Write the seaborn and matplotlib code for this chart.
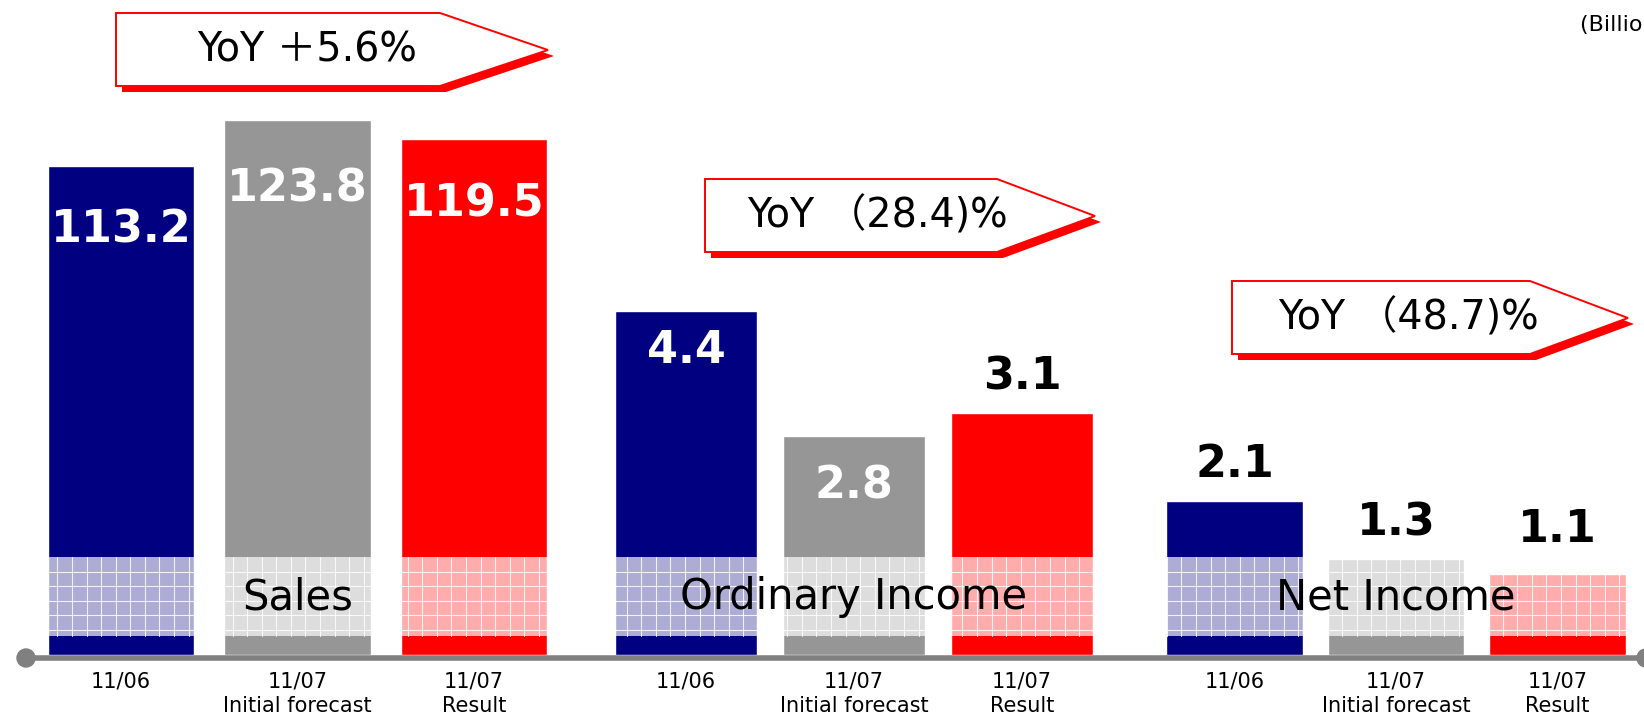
import matplotlib
matplotlib.use("Agg")
import numpy as np
import pandas as pd
import matplotlib.pyplot as plt
import seaborn as sns
from matplotlib.patches import Polygon, Rectangle, Circle
from matplotlib.transforms import blended_transform_factory

# data
periods = ["11/06", "11/07\nInitial forecast", "11/07\nResult"]
sales = [113.2, 123.8, 119.5]
ordinary_income = [4.4, 2.8, 3.1]
net_income = [2.1, 1.3, 1.1]
group_names = ["Sales", "Ordinary Income", "Net Income"]
yoy_labels = ["YoY ＋5.6%", "YoY （28.4)%", "YoY （48.7)%"]
unit_label = "(Billion yen)"

bar_colors = ["#000080", "#969696", "#ff0000"]

W, H = 1644, 718
BASE = 655  # baseline of bars, px from top

sns.set_theme(style="white")
plt.rcParams["font.family"] = ["DejaVu Sans", "Noto Sans CJK JP"]

fig = plt.figure(figsize=(W / 100, H / 100), dpi=100)

# each group has its own scale: (values, left px, right px, bar width, y max, label offsets px)
layout = [
    (sales, 48, 547, 0.831, 151.7, [-64, -69, -65]),
    (ordinary_income, 615, 1093, 0.845, 8.376, [-40, -50, 36]),
    (net_income, 1166, 1626, 0.848, 8.91, [36, 36, 45]),
]

bar_axes = []
for vals, left, right, w, ymax, offs in layout:
    ax = fig.add_axes([left / W, 1 - BASE / H, (right - left) / W, BASE / H])
    df = pd.DataFrame({"period": periods, "value": vals})
    sns.barplot(data=df, x="period", y="value", hue="period", palette=bar_colors,
                width=w, saturation=1, legend=False, ax=ax)
    ax.set_xlim(-w / 2, 2 + w / 2)
    ax.set_ylim(0, ymax)
    ax.set_xlabel("")
    ax.set_ylabel("")
    ax.set_yticks([])
    ax.patch.set_alpha(0)
    sns.despine(ax=ax, left=True, bottom=True)
    ax.tick_params(axis="x", length=0, pad=12, labelsize=15, colors="black")
    for lbl in ax.get_xticklabels():
        lbl.set_linespacing(1.28)
    for patch, v, off in zip(ax.patches, vals, offs):
        cx = patch.get_x() + patch.get_width() / 2
        ax.annotate(f"{v:.1f}", (cx, patch.get_height()), xytext=(0, -off * 0.72 * -1 if off > 0 else off * 0.72),
                    textcoords="offset points", ha="center", va="center",
                    fontsize=32, fontweight="bold",
                    color="white" if off < 0 else "black")
    bar_axes.append(ax)

# overlay in pixel coordinates for the decorations
ov = fig.add_axes([0, 0, 1, 1], zorder=10)
ov.set_xlim(0, W)
ov.set_ylim(H, 0)
ov.axis("off")
ov.patch.set_alpha(0)

# translucent grid band
ov.add_patch(Rectangle((40, 557), 1600, 79, fc="white", alpha=0.68, lw=0))
for gx in np.arange(57.3, 1640, 14.6):
    ov.plot([gx, gx], [557, 636], color="white", lw=0.8, alpha=0.85)
for gy in np.arange(571.6, 636, 14.6):
    ov.plot([40, 1640], [gy, gy], color="white", lw=0.8, alpha=0.85)

# group names centred on the middle bar
for ax, name in zip(bar_axes, group_names):
    tr = blended_transform_factory(ax.transData, ov.transData)
    ov.text(1, 597, name, transform=tr, ha="center", va="center", fontsize=30, color="black")

# baseline with dots
ov.plot([26, W], [658, 658], color="#808080", lw=4, solid_capstyle="butt")
ov.add_patch(Circle((26, 658), 9, color="#808080"))
ov.add_patch(Circle((W + 2, 658), 9, color="#808080"))

# YoY callouts: left, top, bottom, body end, tip x, tip y, text x
callouts = [
    (116, 13, 86, 440, 548, 50, 307),
    (705, 179, 252, 997, 1095, 216, 877),
    (1232, 281, 354, 1530, 1628, 318, 1408),
]
for (l, t, b, e, tx, ty, cx), txt in zip(callouts, yoy_labels):
    pts = np.array([[l, t], [e, t], [tx, ty], [e, b], [l, b]])
    ov.add_patch(Polygon(pts + [6, 6], closed=True, fc="red", ec="none"))
    ov.add_patch(Polygon(pts, closed=True, fc="white", ec="red", lw=1.4))
    ov.text(cx, (t + b) / 2 + 1, txt, ha="center", va="center", fontsize=28.5, color="black")

ov.text(1580, 25, unit_label, ha="left", va="center", fontsize=16, color="black")

fig.savefig("out.png", dpi=100)
